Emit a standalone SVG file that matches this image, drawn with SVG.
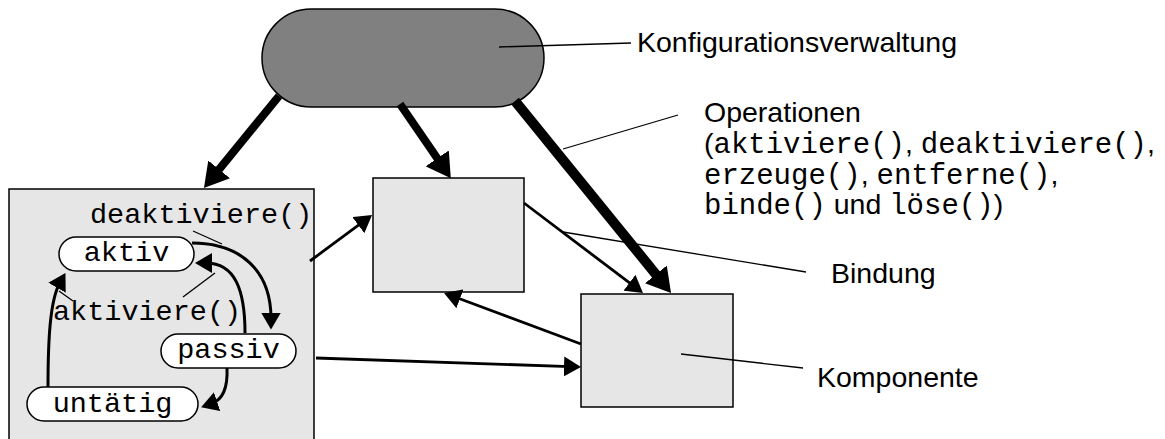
<svg xmlns="http://www.w3.org/2000/svg" width="1165" height="439" viewBox="0 0 1165 439">
  <style>
    .sans { font-family: "Liberation Sans", Arial, sans-serif; font-size: 28.5px; fill: #000; }
    .mono { font-family: "Liberation Mono", "Courier New", monospace; font-size: 28.5px; fill: #000; }
    .ops .mono { font-size: 29px; }
    .box { fill: #e6e6e6; stroke: #000; stroke-width: 1.5; }
    .state { fill: #fff; stroke: #000; stroke-width: 1.5; }
    .leader { fill: none; stroke: #000; stroke-width: 1.3; }
    .thick { fill: none; stroke: #000; stroke-width: 8; }
    .thicker { fill: none; stroke: #000; stroke-width: 10; }
    .thin { fill: none; stroke: #000; stroke-width: 2.8; }
    .curve { fill: none; stroke: #000; stroke-width: 3; }
  </style>
  <defs>
    <marker id="headBig" markerUnits="userSpaceOnUse" markerWidth="26" markerHeight="28" viewBox="0 0 26 28" refX="10" refY="14" orient="auto">
      <path d="M0,0 L24,14 L0,28 z" fill="#000"/>
    </marker>
    <marker id="headSmall" markerUnits="userSpaceOnUse" markerWidth="18" markerHeight="20" viewBox="0 0 18 20" refX="6" refY="10" orient="auto">
      <path d="M0,0 L17,10 L0,20 z" fill="#000"/>
    </marker>
  </defs>

  <!-- configuration manager -->
  <g id="konfigurationsverwaltung">
    <rect x="262" y="9" width="282" height="98" rx="49" ry="49" fill="#808080" stroke="#000" stroke-width="1.5"/>
  </g>

  <!-- component with its state machine -->
  <g id="komponente-links">
    <rect class="box" x="9" y="189" width="305" height="260"/>
    <text class="mono" x="90" y="223">deaktiviere()</text>
    <text class="mono" x="53" y="320">aktiviere()</text>
  </g>
  <g id="zustand-aktiv">
    <rect class="state" x="59" y="237" width="135" height="34" rx="17" ry="17"/>
    <text class="mono" x="126.5" y="261" text-anchor="middle">aktiv</text>
  </g>
  <g id="zustand-passiv">
    <rect class="state" x="161" y="334" width="135" height="34" rx="17" ry="17"/>
    <text class="mono" x="228.5" y="358" text-anchor="middle">passiv</text>
  </g>
  <g id="zustand-untaetig">
    <rect class="state" x="27" y="387" width="171" height="34" rx="17" ry="17"/>
    <text class="mono" x="112.5" y="412" text-anchor="middle">untätig</text>
  </g>

  <g id="komponente-mitte">
    <rect class="box" x="373" y="178" width="151" height="114"/>
  </g>
  <g id="komponente-rechts">
    <rect class="box" x="581" y="294" width="152" height="113"/>
  </g>

  <!-- labels -->
  <g id="beschriftungen">
    <text class="sans" x="637" y="52">Konfigurationsverwaltung</text>
    <g class="ops">
      <text class="sans" x="704" y="122">Operationen</text>
      <text x="704" y="153"><tspan class="sans">(</tspan><tspan class="mono">aktiviere()</tspan><tspan class="sans">, </tspan><tspan class="mono">deaktiviere()</tspan><tspan class="sans">,</tspan></text>
      <text x="704" y="184"><tspan class="mono">erzeuge()</tspan><tspan class="sans">, </tspan><tspan class="mono">entferne()</tspan><tspan class="sans">,</tspan></text>
      <text x="704" y="214"><tspan class="mono">binde()</tspan><tspan class="sans"> und </tspan><tspan class="mono">löse()</tspan><tspan class="sans">)</tspan></text>
    </g>
    <text class="sans" x="831" y="283">Bindung</text>
    <text class="sans" x="817" y="387">Komponente</text>
  </g>

  <!-- connectors -->
  <g id="verbindungen">
    <line class="thick" x1="279" y1="96" x2="212.8" y2="177.1" marker-end="url(#headBig)"/>
    <line class="thick" x1="400" y1="104" x2="442.9" y2="166.6" marker-end="url(#headBig)"/>
    <line class="thicker" x1="515" y1="101" x2="662.2" y2="282.1" marker-end="url(#headBig)"/>

    <line class="thin" x1="524" y1="203" x2="634.2" y2="286.4" marker-end="url(#headSmall)"/>
    <line class="thin" x1="581" y1="344" x2="454.3" y2="296.8" marker-end="url(#headSmall)"/>
    <line class="thin" x1="310" y1="261" x2="363.2" y2="221.6" marker-end="url(#headSmall)"/>
    <line class="thin" x1="316" y1="358" x2="570" y2="366.6" marker-end="url(#headSmall)"/>

    <path class="curve" d="M192,243 C240,243 271,270 271,318.5" marker-end="url(#headSmall)"/>
    <path class="curve" d="M245,333 C245,290 235,263 206,263" marker-end="url(#headSmall)"/>
    <path class="curve" d="M48,387 C48,340 50,300 60,282.5" marker-end="url(#headSmall)"/>
    <path class="curve" d="M227,368 C228,390 222,400 211.5,403.6" marker-end="url(#headSmall)"/>

    <line class="leader" x1="499" y1="47" x2="631" y2="43"/>
    <line class="leader" x1="563" y1="149" x2="678" y2="115"/>
    <line class="leader" x1="563" y1="232" x2="806" y2="272"/>
    <line class="leader" x1="681" y1="354" x2="803" y2="368"/>
    <line class="leader" x1="193" y1="231" x2="222" y2="244"/>
    <line class="leader" x1="183" y1="297" x2="215" y2="273"/>
    <line class="leader" x1="59" y1="291" x2="73" y2="301"/>
  </g>
</svg>
